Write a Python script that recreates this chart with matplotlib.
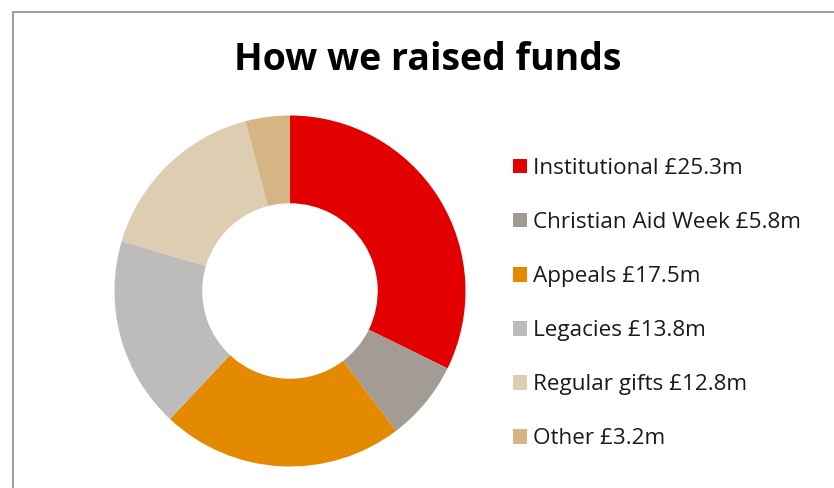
import matplotlib
matplotlib.use("Agg")
import matplotlib.pyplot as plt
from matplotlib.patches import Rectangle

plt.rcParams['font.family'] = ['Open Sans', 'DejaVu Sans']

sources = ['Institutional', 'Christian Aid Week', 'Appeals', 'Legacies', 'Regular gifts', 'Other']
amounts = [25.3, 5.8, 17.5, 13.8, 12.8, 3.2]
colours = ['#E20000', '#A39C95', '#E38A00', '#BDBCBB', '#DDCDB1', '#D5B583']

W, H = 834, 488
fig = plt.figure(figsize=(W / 100, H / 100), dpi=100)

# outer border of the chart area
fig.patches.append(Rectangle((12.5 / W, -0.1), 1.2, (H - 12.5) / H + 0.1,
                             transform=fig.transFigure, fill=False,
                             edgecolor='#8c8c8c', linewidth=1.2))

cx, cy, r = 290, 291, 175.5
ax = fig.add_axes([(cx - r) / W, (H - cy - r) / H, 2 * r / W, 2 * r / H])
wedges, _ = ax.pie(amounts, colors=colours, startangle=90, counterclock=False,
                   radius=1.0, wedgeprops=dict(width=0.5, linewidth=0))
ax.set_xlim(-1, 1)
ax.set_ylim(-1, 1)
ax.set_aspect('equal')
ax.axis('off')

fig.text(428 / W, 1 - 60 / H, 'How we raised funds', ha='center', va='center',
         fontsize=27, fontweight='bold', color='#000000')

labels = ['{} £{}m'.format(s, a) for s, a in zip(sources, amounts)]
fig.legend(wedges, labels, loc='upper left', bbox_to_anchor=(513 / W, 1 - 158 / H),
           frameon=False, fontsize=16.2, labelspacing=1.47,
           handlelength=0.62, handleheight=0.62, handletextpad=0.27,
           borderpad=0, borderaxespad=0, labelcolor='#1a1a1a')

fig.savefig('out.png', dpi=100)
